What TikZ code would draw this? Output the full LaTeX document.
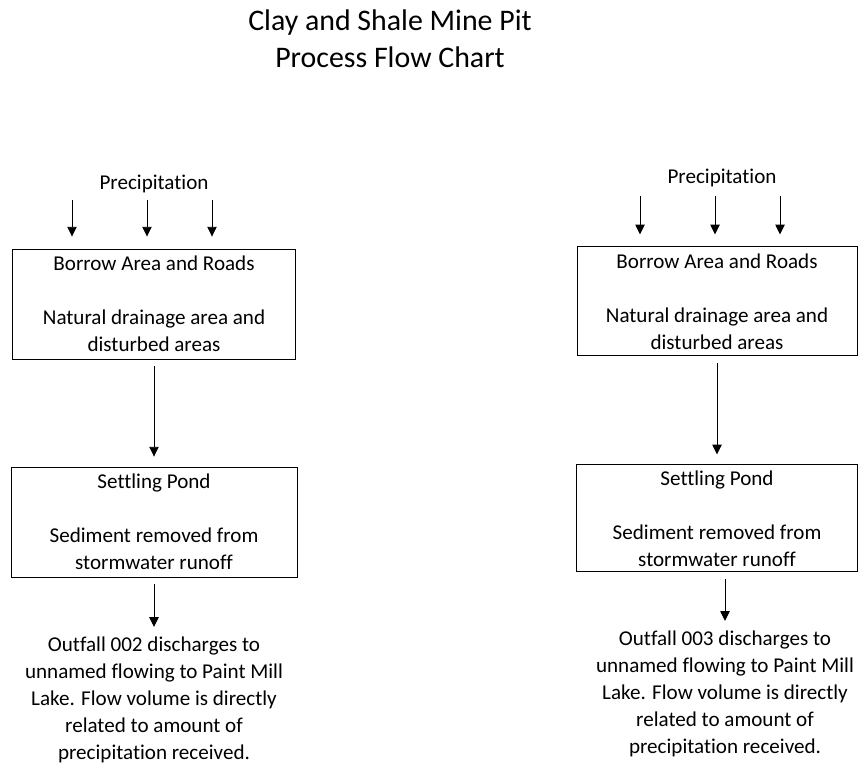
\documentclass[tikz,border=0pt]{standalone}
\usepackage{fontspec}
\setmainfont{Carlito}[Ligatures=NoCommon]
\usetikzlibrary{positioning, arrows.meta}

\tikzset{
  stage/.style={draw, line width=0.8pt, minimum width=8.5cm, minimum height=3.3cm,
    inner sep=0pt, align=center, font=\fontsize{18}{23}\selectfont},
  note/.style={align=center, inner sep=0pt, font=\fontsize{18}{23}\selectfont},
  flow/.style={-{Triangle[length=2.9mm, width=2.8mm]}, line width=0.7pt,
    shorten <=2mm, shorten >=3mm},
  rain/.style={flow, shorten <=0pt, shorten >=3.6mm},
}

\begin{document}
\begin{tikzpicture}[x=0.03cm, y=-0.03cm, on grid]
  \useasboundingbox (0,0) rectangle (859,767);
  \node[align=center, font=\fontsize{25.5}{31.5}\selectfont] (title) at (390,39)
    {Clay and Shale Mine Pit\\Process Flow Chart};

  % outfall 002
  \node[note] (precA) at (154,184) {Precipitation};
  \node[stage] (borA) [below=3.6cm of precA]
    {Borrow Area and Roads\\[23pt]Natural drainage area and\\disturbed areas};
  \node[stage, minimum width=8.58cm] (setA) [below=6.54cm of borA]
    {Settling Pond\\[23pt]Sediment removed from\\stormwater runoff};
  \node[note] (outA) [below=5.34cm of setA]
    {Outfall 002 discharges to\\unnamed flowing to Paint Mill\\Lake. Flow volume is directly\\related to amount of\\precipitation received.};
  \coordinate (dropA1) at (72,200);
  \coordinate (dropA2) at (147,200);
  \coordinate (dropA3) at (212,200);
  \foreach \d in {dropA1, dropA2, dropA3}
    \draw[rain] (\d) -- (\d |- borA.north);
  \draw[flow] (borA) -- (setA);
  \draw[flow] (setA) -- (outA);

  % outfall 003
  \node[note] (precB) at (722,178) {Precipitation};
  \node[stage, minimum width=8.4cm, minimum height=3.27cm] (borB) [below=3.7cm of precB, xshift=-1.5mm]
    {Borrow Area and Roads\\[23pt]Natural drainage area and\\disturbed areas};
  \node[stage, minimum width=8.43cm, minimum height=3.21cm] (setB) [below=6.51cm of borB]
    {Settling Pond\\[23pt]Sediment removed from\\stormwater runoff};
  \node[note] (outB) [below=5.27cm of setB, xshift=2.4mm]
    {Outfall 003 discharges to\\unnamed flowing to Paint Mill\\Lake. Flow volume is directly\\related to amount of\\precipitation received.};
  \coordinate (dropB1) at (640,196);
  \coordinate (dropB2) at (715,196);
  \coordinate (dropB3) at (780,196);
  \foreach \d in {dropB1, dropB2, dropB3}
    \draw[rain] (\d) -- (\d |- borB.north);
  \draw[flow] (borB) -- (setB);
  \draw[flow] (outB |- setB.south) -- (outB.north);
\end{tikzpicture}
\end{document}
